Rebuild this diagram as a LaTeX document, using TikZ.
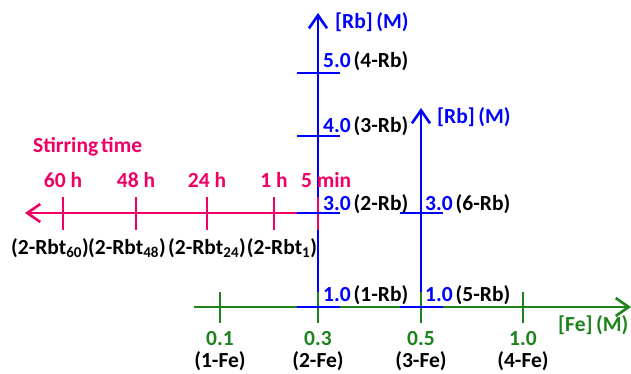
\documentclass[tikz,border=0pt]{standalone}
\usepackage{fontspec}
\setmainfont{Carlito}
\usetikzlibrary{arrows.meta}
\definecolor{rbblue}{RGB}{0,0,255}
\definecolor{fegreen}{RGB}{30,130,30}
\definecolor{stirpink}{RGB}{240,0,100}
\begin{document}
\begin{tikzpicture}[x=1pt,y=-1pt,
  font=\fontsize{21.5}{25}\selectfont\bfseries,
  axisline/.style={line width=2.6pt,
    -{Straight Barb[length=13pt,width=18pt,line width=2.6pt]}},
  tickline/.style={line width=2.6pt},
  lbl/.style={inner sep=0pt, anchor=west},
  clbl/.style={inner sep=0pt, anchor=center}]
\useasboundingbox (0,0) rectangle (631,374);

% axis end points
\coordinate (feO) at (194,307);
\coordinate (feE) at (631,307);
\coordinate (rbA0) at (318,307);
\coordinate (rbAE) at (318,13);
\coordinate (rbB0) at (421,307);
\coordinate (rbBE) at (421,108);
\coordinate (stO) at (297,213);
\coordinate (stE) at (25,213);

% [Fe] axis
\draw[axisline, fegreen] (feO) -- (feE);
% [Rb] axes
\draw[axisline, rbblue] (rbA0) -- (rbAE);
\draw[axisline, rbblue] (rbB0) -- (rbBE);
% stirring-time axis
\draw[axisline, stirpink] (stO) -- (stE);

% [Fe] ticks
\foreach \x/\n in {220/a,318/b,421/c,523/d}
  \draw[tickline, fegreen] (\x,292) coordinate (fet\n) -- (\x,323);

% stirring-time ticks
\foreach \x in {63,136,207,274,318}
  \draw[tickline, stirpink] (\x,197) -- (\x,230);

% [Rb] ticks
\foreach \y in {73,136,213,307}
  \draw[tickline, rbblue] (297,\y) -- (340,\y);
\foreach \y in {213,307}
  \draw[tickline, rbblue] (400,\y) -- (443,\y);

% axis titles
\node[lbl, text=rbblue] (rbtA) at (335,22) {[Rb]\,(M)};
\node[lbl, text=rbblue] (rbtB) at (437,117) {[Rb]\,(M)};
\node[lbl, text=fegreen] (fet) at (558,325) {[Fe]\,(M)};
\node[lbl, text=stirpink] (stt) at (33,147) {Stirring\kern3pt time};

% [Rb] values and samples
\node[lbl] (rb4) at (323,61) {\textcolor{rbblue}{5.0}\kern3pt(4-Rb)};
\node[lbl] (rb3) at (323,126) {\textcolor{rbblue}{4.0}\kern3pt(3-Rb)};
\node[lbl] (rb2) at (323,204) {\textcolor{rbblue}{3.0}\kern3pt(2-Rb)};
\node[lbl] (rb1) at (323,295) {\textcolor{rbblue}{1.0}\kern3pt(1-Rb)};
\node[lbl] (rb6) at (425,204) {\textcolor{rbblue}{3.0}\kern3pt(6-Rb)};
\node[lbl] (rb5) at (425,295) {\textcolor{rbblue}{1.0}\kern3pt(5-Rb)};

% [Fe] values and samples
\foreach \x/\v/\s/\n in {220/0.1/1/a,318/0.3/2/b,421/0.5/3/c,523/1.0/4/d}{
  \node[clbl, text=fegreen] (fev\n) at (\x,339) {\v};
  \node[clbl] (fes\n) at (\x,361) {(\s-Fe)};
}

% stirring times and samples
\node[clbl, text=stirpink] (t60) at (63,180) {60 h};
\node[clbl, text=stirpink] (t48) at (136,180) {48 h};
\node[clbl, text=stirpink] (t24) at (207,180) {24 h};
\node[clbl, text=stirpink] (t1) at (274,180) {1 h};
\node[lbl, text=stirpink] (t5) at (301,180) {5 min};
\node[clbl] (s60) at (50,248) {(2-Rbt\textsubscript{60})};
\node[clbl] (s48) at (127,248) {(2-Rbt\textsubscript{48})};
\node[clbl] (s24) at (207,248) {(2-Rbt\textsubscript{24})};
\node[clbl] (s1) at (282,248) {(2-Rbt\textsubscript{1})};
\end{tikzpicture}
\end{document}
